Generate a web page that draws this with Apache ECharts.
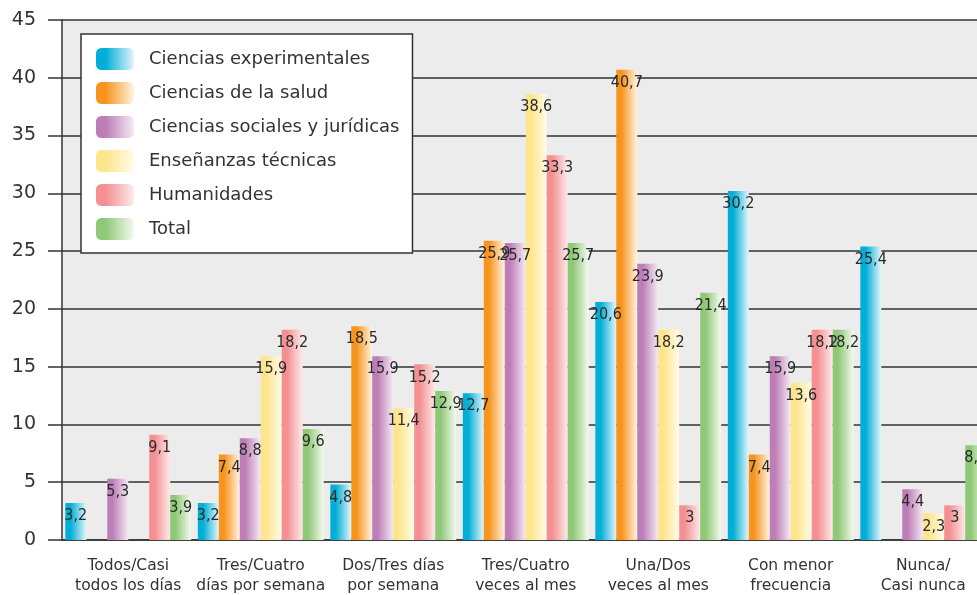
<!DOCTYPE html>
<html><head><meta charset="utf-8">
<script src="https://cdn.jsdelivr.net/npm/echarts@6/dist/echarts.min.js"></script>
<style>html,body{margin:0;padding:0;background:#fff}#c{width:977px;height:595px}</style>
</head><body><div id="c"></div>
<script>
const categories = ['Todos/Casi\ntodos los días','Tres/Cuatro\ndías por semana','Dos/Tres días\npor semana','Tres/Cuatro\nveces al mes','Una/Dos\nveces al mes','Con menor\nfrecuencia','Nunca/\nCasi nunca'];
const seriesNames = ['Ciencias experimentales','Ciencias de la salud','Ciencias sociales y jurídicas','Enseñanzas técnicas','Humanidades','Total'];
const experimentales = [3.2, 3.2, 4.8, 12.7, 20.6, 30.2, 25.4];
const salud = [null, 7.4, 18.5, 25.9, 40.7, 7.4, null];
const sociales = [5.3, 8.8, 15.9, 25.7, 23.9, 15.9, 4.4];
const tecnicas = [null, 15.9, 11.4, 38.6, 18.2, 13.6, 2.3];
const humanidades = [9.1, 18.2, 15.2, 33.3, 3, 18.2, 3];
const total = [3.9, 9.6, 12.9, 25.7, 21.4, 18.2, 8.2];
const yTicks = [0,5,10,15,20,25,30,35,40,45];

const values = [experimentales, salud, sociales, tecnicas, humanidades, total];
const colorStops = [
  ['#00aed6','#e4f5fb'],
  ['#f7941d','#fff4e3'],
  ['#bd7db6','#f5ebf4'],
  ['#fde58c','#fffbe8'],
  ['#f48f92','#fdeaea'],
  ['#8fc877','#f4faef']
];
function grad(c){
  return new echarts.graphic.LinearGradient(0,0,1,0,[{offset:0,color:c[0]},{offset:0.25,color:c[0]},{offset:1,color:c[1]}]);
}
const FONT = '"DejaVu Sans",sans-serif';
const chart = echarts.init(document.getElementById('c'), null, {renderer:'canvas'});
const series = seriesNames.map((n,i)=>({
  name:n, type:'bar', data:values[i],
  barGap:'0%', barCategoryGap:'5%',
  itemStyle:{color:grad(colorStops[i])},
  label:{show:true, position:'insideTop', distance:5,
    fontFamily:'"DejaVu Sans Condensed","Liberation Sans Narrow",sans-serif',
    fontSize:16, color:'#2a2a2a',
    formatter:p=>String(p.value).replace('.',',')}
}));
chart.setOption({
  animation:false,
  grid:{left:62, top:20, height:520, width:927.5, outerBoundsMode:'none', containLabel:false,
    show:true, backgroundColor:'#ececec', borderWidth:0},
  legend:{
    orient:'vertical', left:81, top:34,
    data:seriesNames,
    itemWidth:38, itemHeight:22, itemGap:12,
    padding:[14,13,13,15],
    backgroundColor:'#fff', borderColor:'#333', borderWidth:1.5,
    textStyle:{fontFamily:FONT, fontSize:18, color:'#333', padding:[0,0,0,10]}
  },
  xAxis:{
    type:'category', data:categories,
    axisLine:{lineStyle:{color:'#333', width:1.5}},
    axisTick:{alignWithLabel:false, length:13, lineStyle:{color:'#333', width:1.5}},
    axisLabel:{interval:0, color:'#333', fontFamily:FONT, fontSize:15.5, lineHeight:20, margin:16}
  },
  yAxis:{
    type:'value', min:0, max:45, interval:5,
    axisLine:{show:true, lineStyle:{color:'#333', width:1.5}},
    axisTick:{show:true, length:14, lineStyle:{color:'#333', width:1.5}},
    axisLabel:{color:'#333', fontFamily:FONT, fontSize:19, margin:26,
      formatter:v=>yTicks.includes(v)?String(v):''},
    splitLine:{show:true, lineStyle:{color:'#333', width:1.5}}
  },
  series:series
});
</script></body></html>
